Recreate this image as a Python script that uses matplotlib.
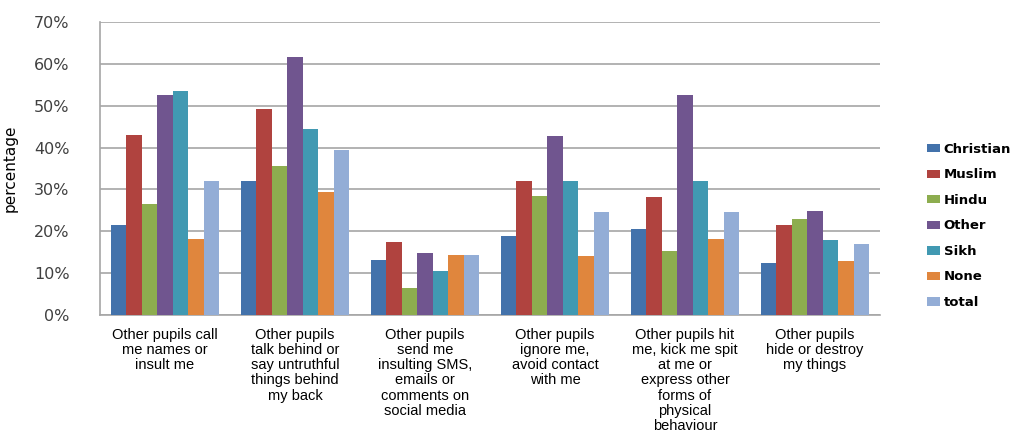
import matplotlib.pyplot as plt
import numpy as np

categories = [
    "Other pupils call\nme names or\ninsult me",
    "Other pupils\ntalk behind or\nsay untruthful\nthings behind\nmy back",
    "Other pupils\nsend me\ninsulting SMS,\nemails or\ncomments on\nsocial media",
    "Other pupils\nignore me,\navoid contact\nwith me",
    "Other pupils hit\nme, kick me spit\nat me or\nexpress other\nforms of\nphysical\nbehaviour",
    "Other pupils\nhide or destroy\nmy things",
]
groups = ["Christian", "Muslim", "Hindu", "Other", "Sikh", "None", "total"]
christian = [21.5, 31.9, 13.2, 18.9, 20.6, 12.4]
muslim = [43.0, 49.2, 17.5, 32.1, 28.2, 21.5]
hindu = [26.6, 35.6, 6.5, 28.4, 15.2, 22.9]
other = [52.5, 61.7, 14.8, 42.7, 52.5, 24.8]
sikh = [53.6, 44.4, 10.4, 32.1, 32.1, 17.9]
none = [18.2, 29.5, 14.4, 14.0, 18.2, 13.0]
total = [32.1, 39.4, 14.4, 24.6, 24.6, 16.9]
series = [christian, muslim, hindu, other, sikh, none, total]
colors = ["#4372ab", "#b0433f", "#8dad4f", "#70558f", "#4199b2", "#e0863d", "#93add6"]

fig = plt.figure(figsize=(10.13, 4.37), dpi=100)
ax = fig.add_axes([100 / 1013, 1 - 315 / 437, 780 / 1013, 293 / 437])

x = np.arange(len(categories))
w = 0.119
for i, (name, vals) in enumerate(zip(groups, series)):
    ax.bar(x + (i - 3) * w, np.array(vals) / 100, w, color=colors[i], label=name, zorder=3)

ax.set_xlim(-0.5, len(categories) - 0.5)
ax.set_ylim(0, 0.7)
ax.set_yticks(np.arange(0, 0.71, 0.1))
ax.set_yticklabels(["%d%%" % v for v in range(0, 71, 10)], fontsize=11.5, color="#404040")
ax.yaxis.grid(True, color="#a6a6a6", linewidth=1.2, zorder=0)
ax.tick_params(axis="y", length=0, pad=22)
ax.tick_params(axis="x", length=0, pad=9)
ax.set_xticks(x)
ax.set_xticklabels(categories, family=["Liberation Sans Narrow", "Liberation Sans"],
                   fontsize=10.5, linespacing=1.12, va="top")
for s in ["top", "right"]:
    ax.spines[s].set_visible(False)
ax.spines["left"].set_color("#a6a6a6")
ax.spines["bottom"].set_color("#a6a6a6")
ax.spines["left"].set_linewidth(1.2)
ax.spines["bottom"].set_linewidth(1.2)
ax.set_ylabel("percentage", fontsize=11)
ax.yaxis.set_label_coords(-0.105, 0.5)

fig.legend(loc="center left", bbox_to_anchor=(0.903, 0.483), frameon=False,
           prop={"weight": "bold", "size": 9.5}, handlelength=1.0, handleheight=0.6,
           labelspacing=0.95, handletextpad=0.3)

fig.savefig("out.png", dpi=100)
